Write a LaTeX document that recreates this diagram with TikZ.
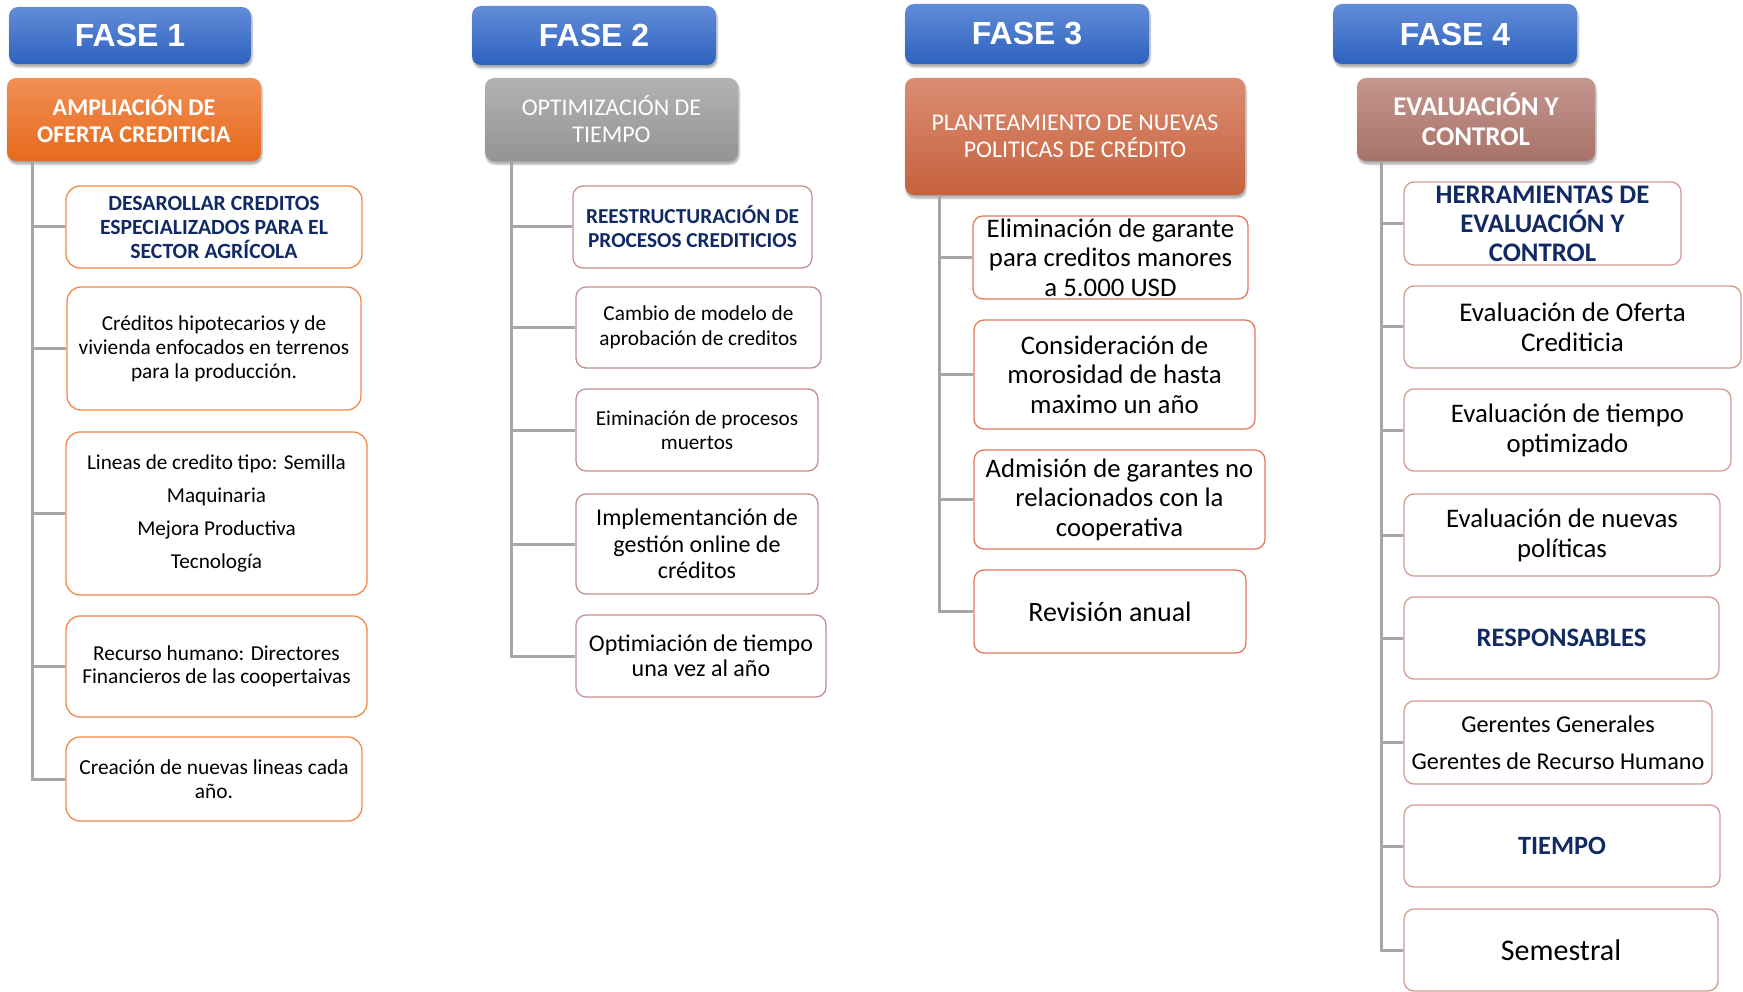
\documentclass[tikz,border=0pt]{standalone}
\usepackage{fontspec}
\setmainfont{Carlito}
\newfontfamily\arialfam{Liberation Sans}
\usetikzlibrary{shadows.blur}
\definecolor{fbtop}{RGB}{98,140,216}
\definecolor{fbbot}{RGB}{46,98,190}
\definecolor{ortop}{RGB}{241,143,84}
\definecolor{orbot}{RGB}{230,106,28}
\definecolor{grtop}{RGB}{178,178,178}
\definecolor{grbot}{RGB}{148,148,148}
\definecolor{rdtop}{RGB}{218,140,114}
\definecolor{rdbot}{RGB}{198,98,62}
\definecolor{rstop}{RGB}{196,150,142}
\definecolor{rsbot}{RGB}{168,114,106}
\definecolor{bor1}{RGB}{240,136,74}
\definecolor{bor2}{RGB}{196,142,142}
\definecolor{bor3}{RGB}{228,122,90}
\definecolor{bor4}{RGB}{210,154,146}
\definecolor{navy}{RGB}{18,42,100}
\definecolor{linegray}{RGB}{166,166,166}
\newcommand\fsz[2]{\fontsize{#1}{#2}\selectfont}
\tikzset{
  shd/.style={blur shadow={shadow xshift=1pt,shadow yshift=-3pt,shadow blur steps=6,shadow opacity=35}},
  fase/.style={shd,rounded corners=9pt,top color=fbtop,bottom color=fbbot,draw=none,text=white,
    font=\arialfam\bfseries\fsz{32}{37},inner sep=0pt},
  hdr/.style={shd,rounded corners=9pt,draw=none,text=white,align=center,inner sep=0pt},
  cbox/.style={draw,rounded corners=10pt,line width=1.3pt,fill=white,align=center,inner sep=0pt,text=black},
  b1/.style={cbox,draw=bor1,rounded corners=14pt},
  b2/.style={cbox,draw=bor2},
  b3/.style={cbox,draw=bor3},
  b4/.style={cbox,draw=bor4},
  nv/.style={text=navy,font=\bfseries#1},
  conn/.style={draw=linegray,line width=3pt},
}
\begin{document}
\begin{tikzpicture}[x=1pt,y=-1pt]
\useasboundingbox (0,0) rectangle (1743,992);
% ---------- FASE 1
\node[fase,minimum width=242,minimum height=57] (f1) at (130,35.5) {FASE 1};
\node[hdr,top color=ortop,bottom color=orbot,minimum width=254,minimum height=83,font=\bfseries\fsz{24}{27}] (h1) at (134,119.5) {AMPLIACIÓN DE\\OFERTA CREDITICIA};
\node[b1,minimum width=296,minimum height=82,nv=\fsz{21.7}{24}] (c11) at (214,227) {DESAROLLAR CREDITOS\\ESPECIALIZADOS PARA EL\\SECTOR AGRÍCOLA};
\node[b1,minimum width=294,minimum height=123,font=\fsz{21.3}{24}] (c12) at (214,348.5) {Créditos hipotecarios y de\\vivienda enfocados en terrenos\\para la producción.};
\node[b1,minimum width=301,minimum height=163,font=\fsz{21.2}{25}] (c13) at (216.5,513.5) {Lineas de credito tipo: Semilla\\[8pt]Maquinaria\\[8pt]Mejora Productiva\\[8pt]Tecnología};
\node[b1,minimum width=301,minimum height=101,font=\fsz{21.3}{23.5}] (c14) at (216.5,666.5) {Recurso humano: Directores\\Financieros de las coopertaivas};
\node[b1,minimum width=296,minimum height=84,font=\fsz{21.4}{23.5}] (c15) at (214,779) {Creación de nuevas lineas cada\\año.};
\coordinate (t1) at (32,161);
\draw[conn] (t1) |- (c15.west);
\foreach \c in {c11,c12,c13,c14} \draw[conn] (\c.west) -- (\c.west -| t1);
% ---------- FASE 2
\node[fase,minimum width=244,minimum height=59] (f2) at (594,35.5) {FASE 2};
\node[hdr,top color=grtop,bottom color=grbot,minimum width=253,minimum height=83,font=\fsz{24}{27}] (h2) at (611.5,119.5) {OPTIMIZACIÓN DE\\TIEMPO};
\node[b2,minimum width=239,minimum height=82,nv=\fsz{21.3}{24}] (c21) at (692.5,227) {REESTRUCTURACIÓN DE\\PROCESOS CREDITICIOS};
\node[b2,minimum width=245,minimum height=81,font=\fsz{21.3}{24.5}] (c22) at (698.5,327.5) {Cambio de modelo de\\aprobación de creditos};
\node[b2,minimum width=242,minimum height=82,font=\fsz{21.2}{24.5}] (c23) at (697,430) {Eiminación de procesos\\muertos};
\node[b2,minimum width=242,minimum height=100,font=\fsz{24}{26.7}] (c24) at (697,544) {Implementanción de\\gestión online de\\créditos};
\node[b2,minimum width=250,minimum height=82,font=\fsz{24}{25.5}] (c25) at (701,656) {Optimiación de tiempo\\una vez al año};
\coordinate (t2) at (511,161);
\draw[conn] (t2) |- (c25.west);
\foreach \c in {c21,c22,c23,c24} \draw[conn] (\c.west) -- (\c.west -| t2);
% ---------- FASE 3
\node[fase,minimum width=244,minimum height=60] (f3) at (1027,34) {FASE 3};
\node[hdr,top color=rdtop,bottom color=rdbot,minimum width=340,minimum height=117,font=\fsz{24}{27}] (h3) at (1075,136.5) {PLANTEAMIENTO DE NUEVAS\\POLITICAS DE CRÉDITO};
\node[b3,minimum width=275,minimum height=83,font=\fsz{26.8}{29.5}] (c31) at (1110.5,257.5) {Eliminación de garante\\para creditos manores\\a 5.000 USD};
\node[b3,minimum width=281,minimum height=109,font=\fsz{26.8}{29.5}] (c32) at (1114.5,374.5) {Consideración de\\morosidad de hasta\\maximo un año};
\node[b3,minimum width=291,minimum height=99,font=\fsz{26.7}{29.5}] (c33) at (1119.5,499.5) {Admisión de garantes no\\relacionados con la\\cooperativa};
\node[b3,minimum width=272,minimum height=83,font=\fsz{28}{32}] (c34) at (1110,611.5) {Revisión anual};
\coordinate (t3) at (939,195);
\draw[conn] (t3) |- (c34.west);
\foreach \c in {c31,c32,c33} \draw[conn] (\c.west) -- (\c.west -| t3);
% ---------- FASE 4
\node[fase,minimum width=244,minimum height=60] (f4) at (1455,34) {FASE 4};
\node[hdr,top color=rstop,bottom color=rsbot,minimum width=238,minimum height=83,font=\bfseries\fsz{27}{30}] (h4) at (1476,119.5) {EVALUACIÓN Y\\CONTROL};
\node[b4,minimum width=277,minimum height=83,nv=\fsz{26.8}{29}] (c41) at (1542.5,223.5) {HERRAMIENTAS DE\\EVALUACIÓN Y\\CONTROL};
\node[b4,minimum width=337,minimum height=82,font=\fsz{27}{30}] (c42) at (1572.5,327) {Evaluación de Oferta\\Crediticia};
\node[b4,minimum width=327,minimum height=82,font=\fsz{26.8}{30}] (c43) at (1567.5,430) {Evaluación de tiempo\\optimizado};
\node[b4,minimum width=316,minimum height=82,font=\fsz{26.8}{30}] (c44) at (1562,535) {Evaluación de nuevas\\políticas};
\node[b4,minimum width=315,minimum height=82,nv=\fsz{26.6}{30}] (c45) at (1561.5,638) {RESPONSABLES};
\node[b4,minimum width=308,minimum height=83,font=\fsz{24.2}{29}] (c46) at (1558,742.5) {Gerentes Generales\\[8pt]Gerentes de Recurso Humano};
\node[b4,minimum width=316,minimum height=82,nv=\fsz{26.4}{30}] (c47) at (1562,846) {TIEMPO};
\node[b4,minimum width=314,minimum height=82,font=\fsz{30}{34}] (c48) at (1561,950) {Semestral};
\coordinate (t4) at (1381,161);
\draw[conn] (t4) |- (c48.west);
\foreach \c in {c41,c42,c43,c44,c45,c46,c47} \draw[conn] (\c.west) -- (\c.west -| t4);
\end{tikzpicture}
\end{document}
